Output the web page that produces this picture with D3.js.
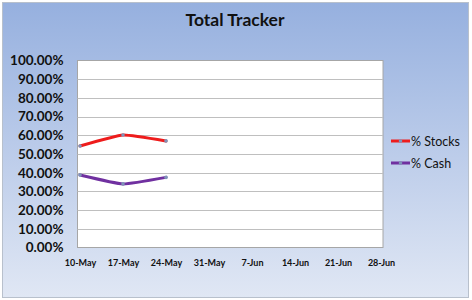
<!DOCTYPE html>
<html><head><meta charset="utf-8">
<script src="https://cdn.jsdelivr.net/npm/d3@7"></script>
<style>body{margin:0;padding:0;}svg{display:block;}</style>
</head><body>
<script>
const categories = ["10-May","17-May","24-May","31-May","7-Jun","14-Jun","21-Jun","28-Jun"];
const stocks = [54.3, 60.2, 57.0];
const cash = [38.8, 34.0, 37.5];
const yTicks = [0,10,20,30,40,50,60,70,80,90,100];
const seriesNames = ["% Stocks","% Cash"];
const seriesColors = ["#ee1c1c","#7030a0"];

const W=472,H=300;
const svg=d3.select("body").append("svg").attr("width",W).attr("height",H);
const defs=svg.append("defs");
const g=defs.append("linearGradient").attr("id","bg").attr("x1",0).attr("y1",0).attr("x2",0).attr("y2",1);
g.append("stop").attr("offset","0%").attr("stop-color","#96b0df");
g.append("stop").attr("offset","100%").attr("stop-color","#e0e7f4");
svg.append("rect").attr("x",0).attr("y",0).attr("width",W).attr("height",H).attr("fill","#ffffff");
svg.append("rect").attr("x",2.5).attr("y",2.5).attr("width",W-6).attr("height",H-5).attr("fill","url(#bg)").attr("stroke","#b8c0cc");

const font="Lato, 'Open Sans', sans-serif";
svg.append("text").attr("x",235).attr("y",26).attr("text-anchor","middle").attr("font-family",font).attr("font-weight","bold").attr("font-size",17.5).attr("fill","#111").text("Total Tracker");

const L=77.5,R=383,T=60.5,B=247.5;
svg.append("rect").attr("x",L).attr("y",T).attr("width",R-L).attr("height",B-T).attr("fill","#fff").attr("stroke","#a6a6a6");
const y=d3.scaleLinear().domain([0,100]).range([B,T]);
const x=d3.scalePoint().domain(categories).range([80,381]);

svg.append("g").selectAll("line").data(yTicks.filter(d=>d>0&&d<100)).join("line")
 .attr("x1",L).attr("x2",R).attr("y1",d=>Math.round(y(d))+0.5).attr("y2",d=>Math.round(y(d))+0.5).attr("stroke","#bfbfbf");

const yAxis=svg.append("g").attr("transform",`translate(${L},0)`).call(d3.axisLeft(y).tickValues(yTicks).tickSize(0).tickPadding(14).tickFormat(d=>d.toFixed(2)+"%"));
yAxis.select(".domain").remove();
yAxis.selectAll("text").attr("font-family",font).attr("font-weight","bold").attr("font-size",13.5).attr("fill","#111");

const xAxis=svg.append("g").attr("transform",`translate(0,${B})`).call(d3.axisBottom(x).tickSize(0).tickPadding(12));
xAxis.select(".domain").remove();
xAxis.selectAll("text").attr("font-family",font).attr("font-weight","bold").attr("font-size",9).attr("fill","#111");

const line=d3.line().x((d,i)=>x(categories[i])).y(d=>y(d)).curve(d3.curveCardinal.tension(0.6));
[stocks,cash].forEach((s,k)=>{
  svg.append("path").attr("d",line(s)).attr("fill","none").attr("stroke",seriesColors[k]).attr("stroke-width",3).attr("stroke-linecap","round");
  svg.append("g").selectAll("circle").data(s).join("circle").attr("cx",(d,i)=>x(categories[i])).attr("cy",d=>y(d)).attr("r",1.8).attr("fill","#7f93b8");
});

const leg=svg.append("g");
seriesNames.forEach((n,k)=>{
  const yy=141+k*22;
  leg.append("line").attr("x1",391).attr("x2",410).attr("y1",yy).attr("y2",yy).attr("stroke",seriesColors[k]).attr("stroke-width",3);
  leg.append("circle").attr("cx",400.5).attr("cy",yy).attr("r",1.8).attr("fill","#7f93b8");
  leg.append("text").attr("x",411).attr("y",yy+4.5).attr("font-family",font).attr("font-size",12.5).attr("fill","#111").text(n);
});
</script>
</body></html>
